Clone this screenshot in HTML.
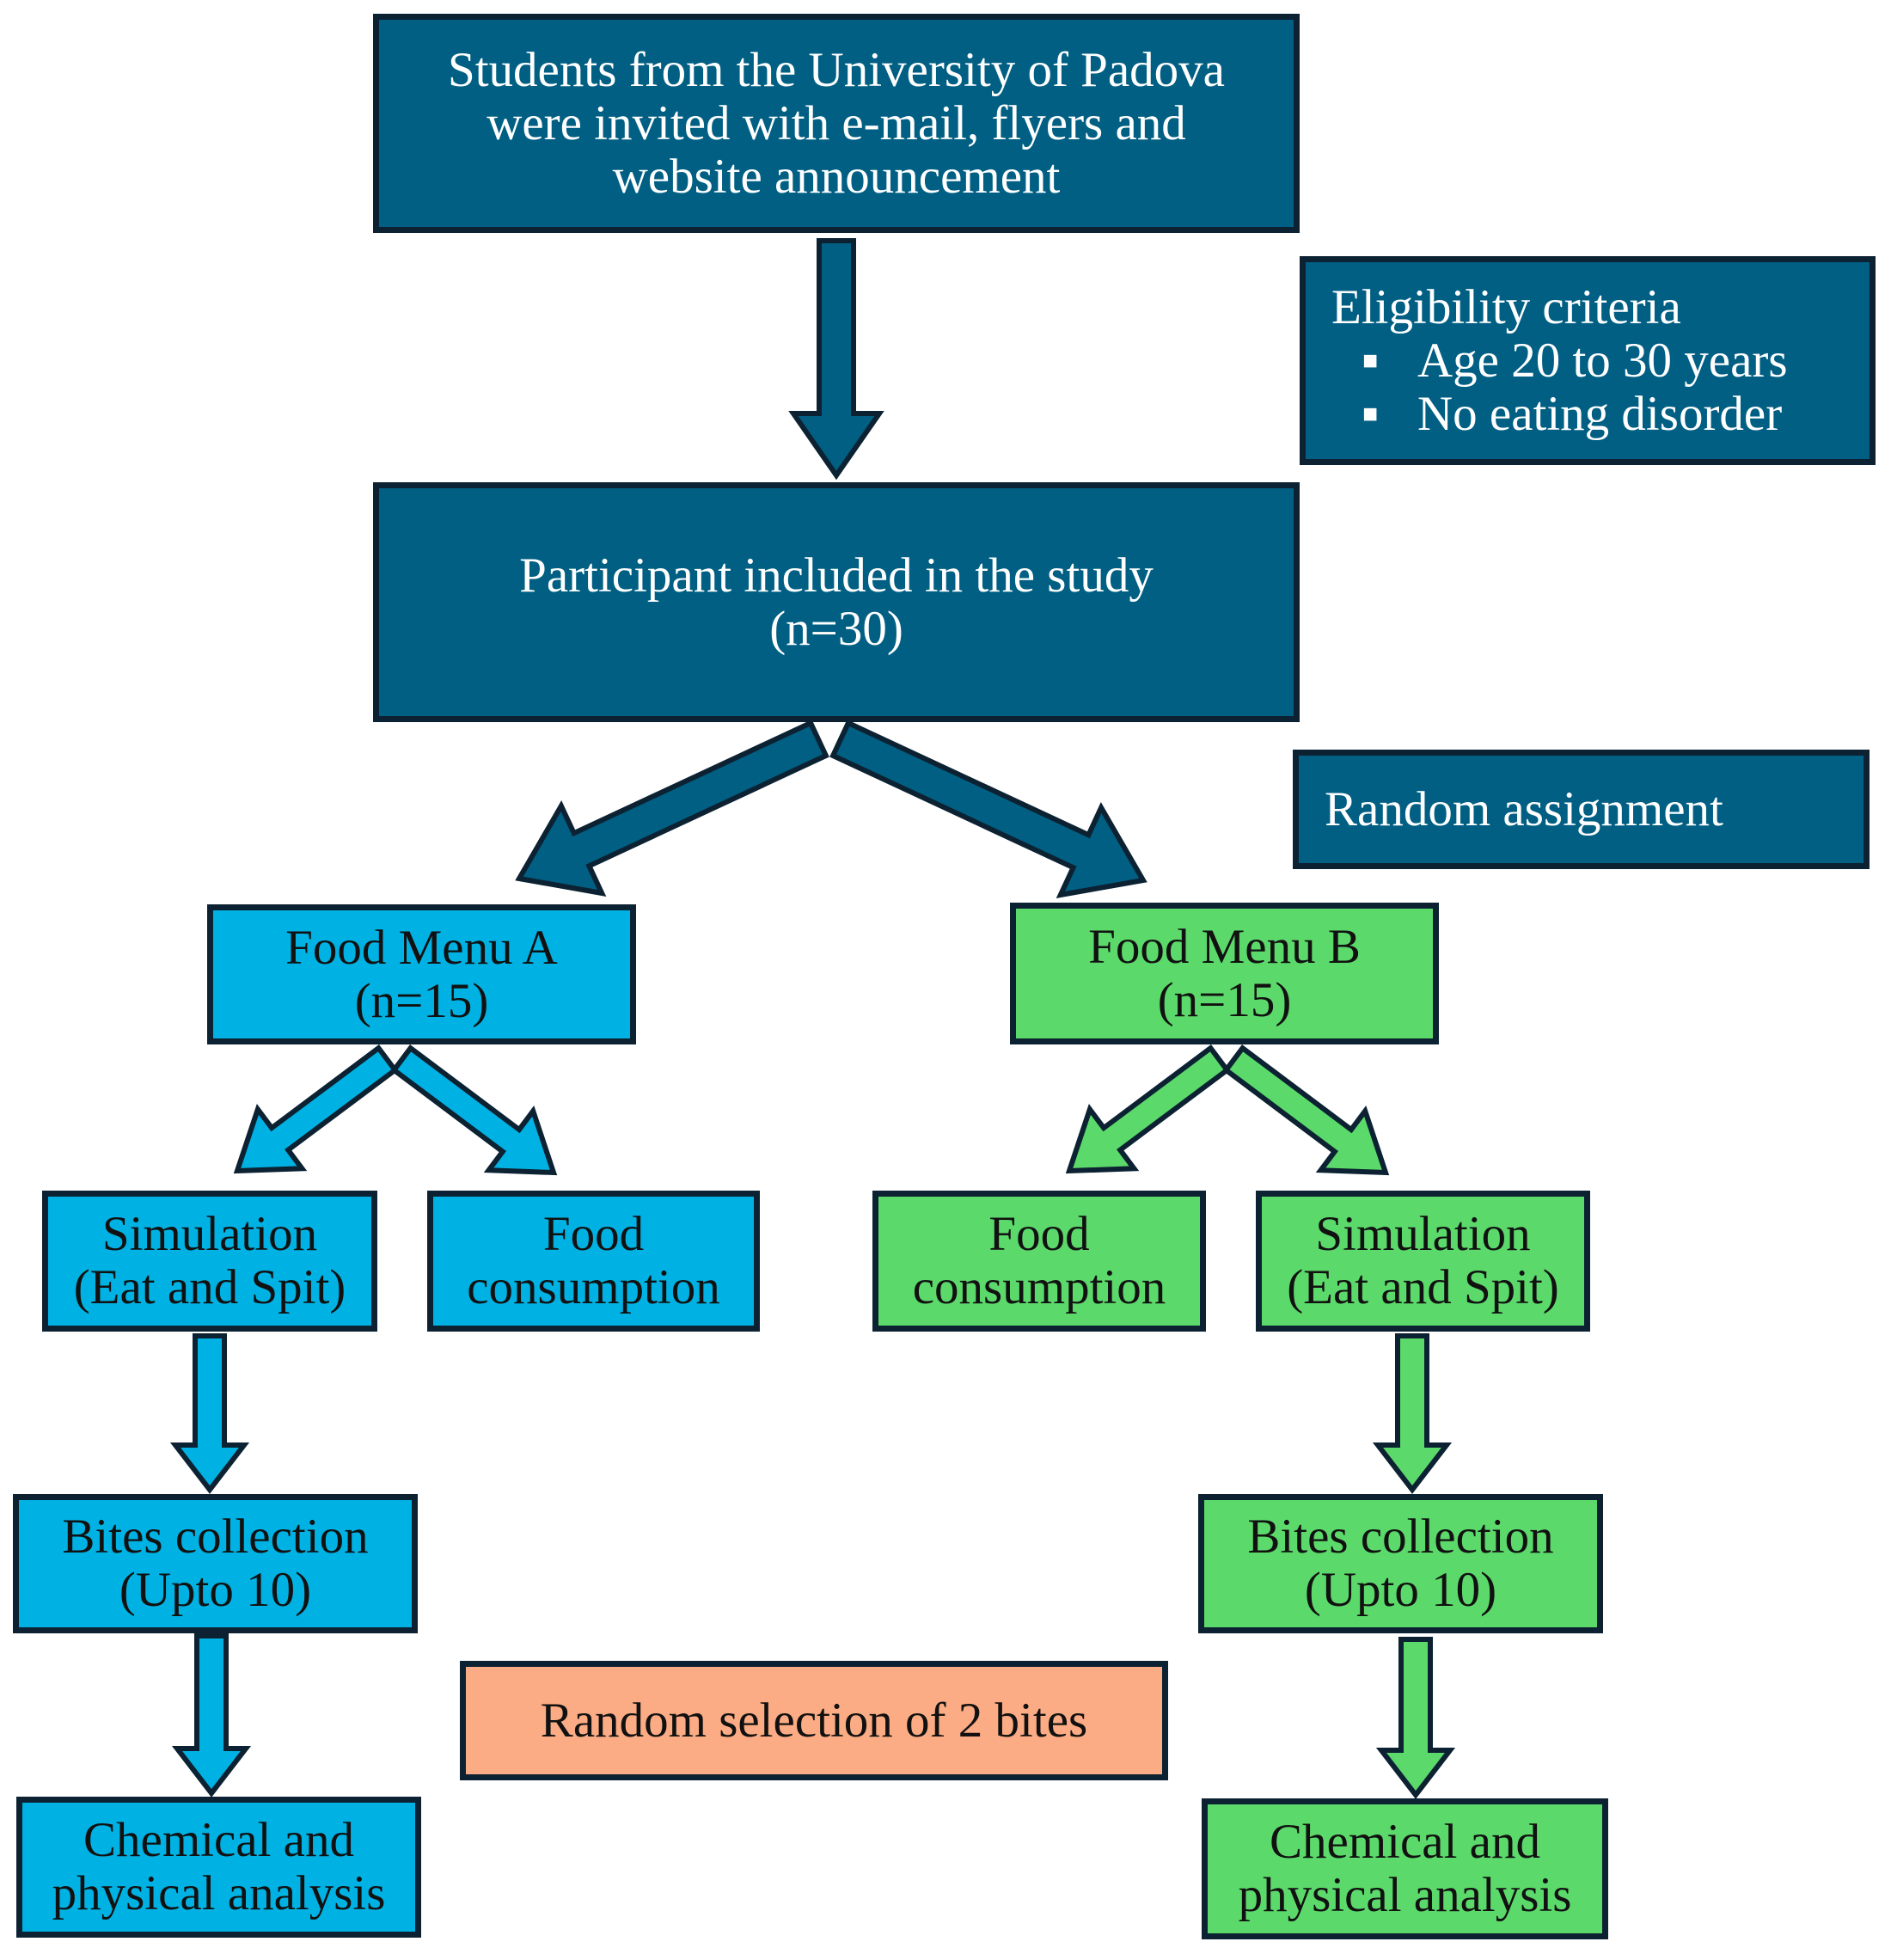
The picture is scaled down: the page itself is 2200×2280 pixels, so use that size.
<!DOCTYPE html>
<html><head><meta charset="utf-8">
<style>
html,body{margin:0;padding:0;background:#fff;}
body{width:2200px;height:2280px;position:relative;overflow:hidden;font-family:"Liberation Serif",serif;}
.b{position:absolute;box-sizing:border-box;border:7px solid #0c2232;display:flex;align-items:center;justify-content:center;text-align:center;font-size:57px;line-height:62px;white-space:nowrap;}
.d{background:#005f83;color:#fff;}
.c{background:#00b2e3;color:#111;}
.g{background:#5cd96b;color:#111;}
.o{background:#fcac84;color:#111;}
svg{position:absolute;left:0;top:0;}
</style></head><body>
<svg id="s" width="2200" height="2280"></svg>
<div class="b d" style="left:434px;top:16px;width:1078px;height:255px;">Students from the University of Padova<br>were invited with e-mail, flyers and<br>website announcement</div>
<div class="b d" style="left:1512px;top:298px;width:670px;height:243px;display:block;text-align:left;padding:22px 0 0 30px;">Eligibility criteria<br><span style="display:inline-block;width:50px;text-align:center;margin-left:20px;font-size:30px;vertical-align:top;">■</span><span style="margin-left:30px">Age 20 to 30 years</span><br><span style="display:inline-block;width:50px;text-align:center;margin-left:20px;font-size:30px;vertical-align:top;">■</span><span style="margin-left:30px">No eating disorder</span></div>
<div class="b d" style="left:434px;top:561px;width:1078px;height:279px;">Participant included in the study<br>(n=30)</div>
<div class="b d" style="left:1504px;top:872px;width:671px;height:139px;justify-content:flex-start;padding-left:30px;">Random assignment</div>
<div class="b c" style="left:241px;top:1052px;width:499px;height:163px;">Food Menu A<br>(n=15)</div>
<div class="b g" style="left:1175px;top:1050px;width:499px;height:165px;">Food Menu B<br>(n=15)</div>
<div class="b c" style="left:49px;top:1385px;width:390px;height:164px;">Simulation<br>(Eat and Spit)</div>
<div class="b c" style="left:497px;top:1385px;width:387px;height:164px;">Food<br>consumption</div>
<div class="b g" style="left:1015px;top:1385px;width:388px;height:164px;">Food<br>consumption</div>
<div class="b g" style="left:1461px;top:1385px;width:389px;height:164px;">Simulation<br>(Eat and Spit)</div>
<div class="b c" style="left:15px;top:1738px;width:471px;height:162px;">Bites collection<br>(Upto 10)</div>
<div class="b g" style="left:1394px;top:1738px;width:471px;height:162px;">Bites collection<br>(Upto 10)</div>
<div class="b o" style="left:535px;top:1932px;width:824px;height:139px;">Random selection of 2 bites</div>
<div class="b c" style="left:19px;top:2090px;width:471px;height:164px;">Chemical and<br>physical analysis</div>
<div class="b g" style="left:1398px;top:2092px;width:473px;height:164px;">Chemical and<br>physical analysis</div>
<script>
var s=document.getElementById('s'),h='';
function A(x1,y1,x2,y2,w,hw,hl,f){
 var dx=x2-x1,dy=y2-y1,L=Math.hypot(dx,dy),ux=dx/L,uy=dy/L,px=-uy,py=ux;
 var bx=x2-ux*hl,by=y2-uy*hl;
 var p=[[x1+px*w/2,y1+py*w/2],[bx+px*w/2,by+py*w/2],[bx+px*hw/2,by+py*hw/2],[x2,y2],[bx-px*hw/2,by-py*hw/2],[bx-px*w/2,by-py*w/2],[x1-px*w/2,y1-py*w/2]];
 h+='<polygon points="'+p.map(function(q){return q[0].toFixed(1)+','+q[1].toFixed(1)}).join(' ')+'" fill="'+f+'" stroke="#0c2232" stroke-width="6" stroke-linejoin="miter"/>';
}
var D='#005f83',C='#00b2e3',G='#5cd96b';
A(973,280,973,553,40,100,72,D);
A(952,860,604,1022,42,112,80,D);
A(978,860,1330,1024,42,112,80,D);
A(450,1232,276,1362,32,86,62,C);
A(468,1232,644,1364,32,86,62,C);
A(1418,1232,1244,1362,32,86,62,G);
A(1436,1232,1612,1364,32,86,62,G);
A(244,1554,244,1733,34,80,52,C);
A(246,1903,246,2086,34,80,52,C);
A(1643,1554,1643,1733,34,80,52,G);
A(1647,1907,1647,2088,34,80,52,G);
s.innerHTML=h;
</script>
</body></html>
